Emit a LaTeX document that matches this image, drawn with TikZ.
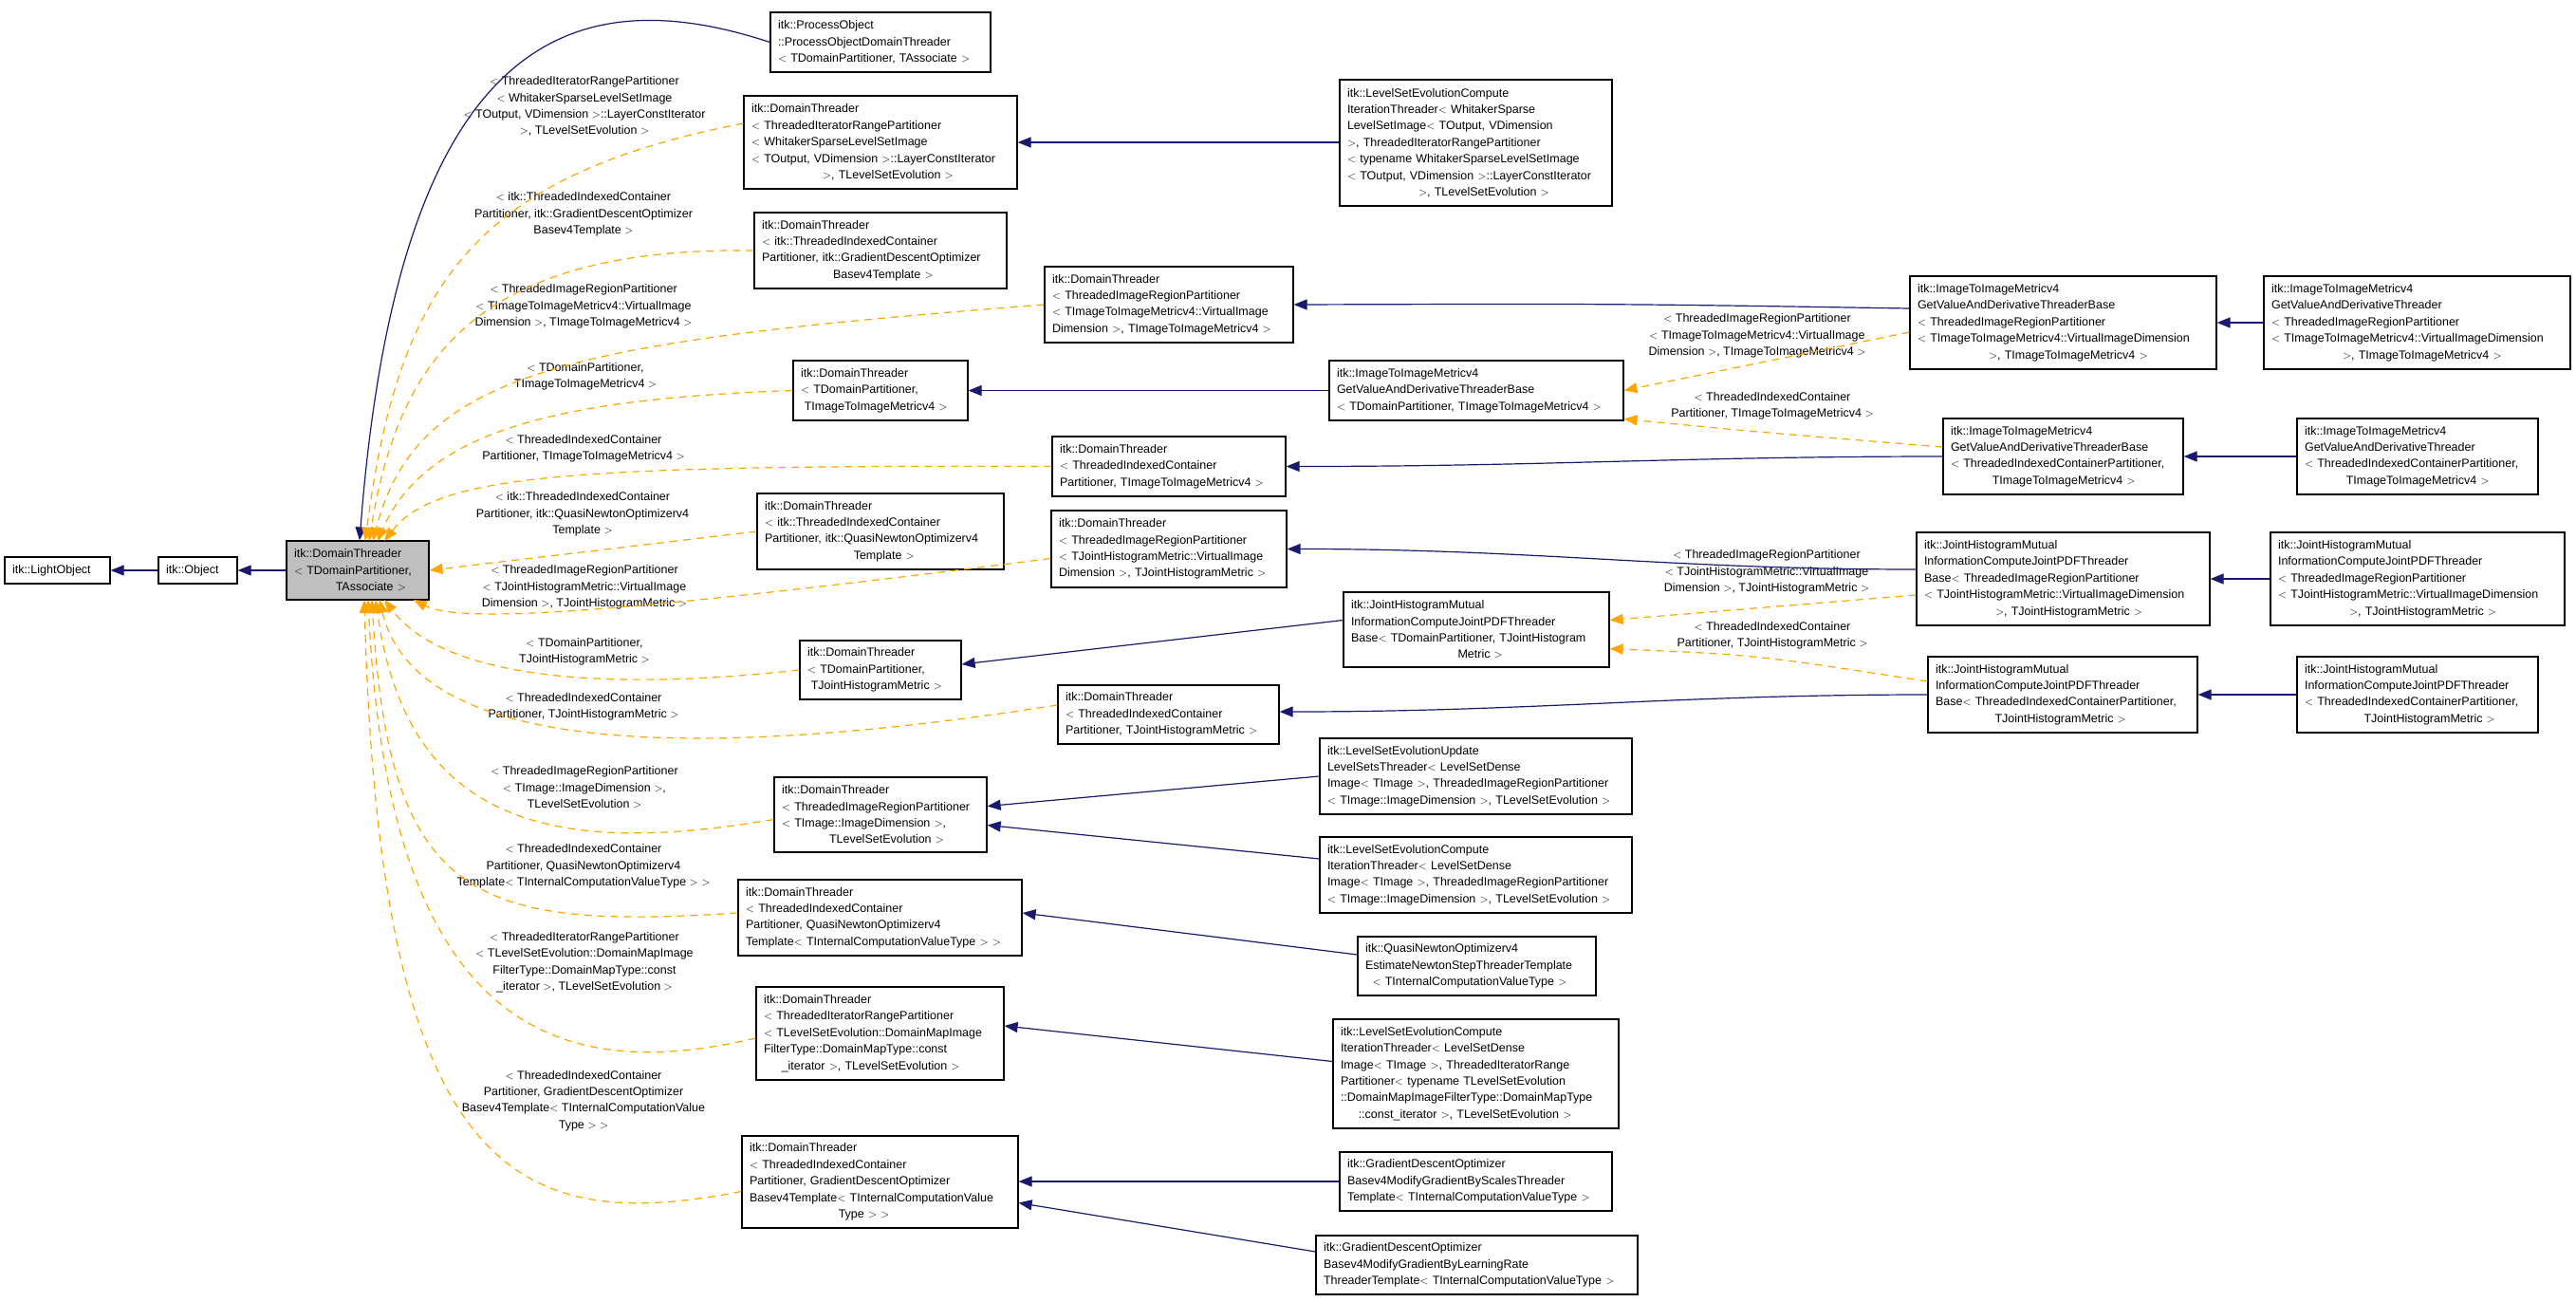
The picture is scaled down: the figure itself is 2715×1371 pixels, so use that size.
\documentclass[tikz,border=0pt]{standalone}
\usepackage{fontspec}
\setmainfont{Liberation Sans}
\usetikzlibrary{arrows.meta,calc}
\definecolor{navy}{HTML}{191970}
\definecolor{orng}{HTML}{FFA500}
\tikzset{
  box/.style={draw=black,line width=1.2pt,inner sep=0pt,align=left,font=\fontsize{12.5}{17.4}\selectfont},
  lab/.style={align=center,font=\fontsize{12.5}{17.4}\selectfont,inner sep=0pt},
  inh/.style={draw=navy,line width=1.2pt,-{Triangle[length=14pt,width=11pt]}},
  dep/.style={draw=orng,line width=1.2pt,dash pattern=on 8pt off 6pt,-{Triangle[length=14pt,width=11pt,fill=orng]}}
}
\newcommand\bx[7][]{\pgfmathsetmacro\bw{#5-#3}\pgfmathsetmacro\bh{#6-#4}\pgfmathsetmacro\tw{#5-#3-16}%
\node[box,#1,minimum width=\bw pt,minimum height=\bh pt,text width=\tw pt] (#2) at ({(#3+#5)/2},{(#4+#6)/2}) {#7};}
\begin{document}
\begin{tikzpicture}[x=1pt,y=-1pt]
\useasboundingbox (0,0) rectangle (2715,1371);
% boxes
\bx{lo}{5}{587}{116}{615}{itk::LightObject}
\bx{ob}{167}{587}{250}{615}{itk::Object}
\bx[fill=black!25]{main}{302}{570}{452}{632}{itk::DomainThreader\\$<$ TDomainPartitioner,\\\hspace*{3.5em}TAssociate $>$}
\bx{po}{812}{13}{1044}{76}{itk::ProcessObject\\::ProcessObjectDomainThreader\\$<$ TDomainPartitioner, TAssociate $>$}
\bx{dta}{784}{101}{1072}{199}{itk::DomainThreader\\$<$ ThreadedIteratorRangePartitioner\\$<$ WhitakerSparseLevelSetImage\\$<$ TOutput, VDimension $>$::LayerConstIterator\\\hspace*{6em}$>$, TLevelSetEvolution $>$}
\bx{lsew}{1412}{84}{1699}{217}{itk::LevelSetEvolutionCompute\\IterationThreader$<$ WhitakerSparse\\LevelSetImage$<$ TOutput, VDimension\\ $>$, ThreadedIteratorRangePartitioner\\$<$ typename WhitakerSparseLevelSetImage\\$<$ TOutput, VDimension $>$::LayerConstIterator\\\hspace*{6em}$>$, TLevelSetEvolution $>$}
\bx{dtb}{795}{224}{1061}{304}{itk::DomainThreader\\$<$ itk::ThreadedIndexedContainer\\Partitioner, itk::GradientDescentOptimizer\\\hspace*{6em}Basev4Template $>$}
\bx{dtc}{1101}{281}{1363}{361}{itk::DomainThreader\\$<$ ThreadedImageRegionPartitioner\\$<$ TImageToImageMetricv4::VirtualImage\\Dimension $>$, TImageToImageMetricv4 $>$}
\bx{dtd}{836}{380}{1020}{443}{itk::DomainThreader\\$<$ TDomainPartitioner,\\\hspace*{0.3em}TImageToImageMetricv4 $>$}
\bx{gtdp}{1401}{380}{1711}{443}{itk::ImageToImageMetricv4\\GetValueAndDerivativeThreaderBase\\$<$ TDomainPartitioner, TImageToImageMetricv4 $>$}
\bx{dte}{1109}{460}{1355}{523}{itk::DomainThreader\\$<$ ThreadedIndexedContainer\\Partitioner, TImageToImageMetricv4 $>$}
\bx{dtf}{798}{520}{1058}{600}{itk::DomainThreader\\$<$ itk::ThreadedIndexedContainer\\Partitioner, itk::QuasiNewtonOptimizerv4\\\hspace*{7.5em}Template $>$}
\bx{dtg}{1108}{538}{1356}{619}{itk::DomainThreader\\$<$ ThreadedImageRegionPartitioner\\$<$ TJointHistogramMetric::VirtualImage\\Dimension $>$, TJointHistogramMetric $>$}
\bx{jtdp}{1416}{624}{1696}{703}{itk::JointHistogramMutual\\InformationComputeJointPDFThreader\\Base$<$ TDomainPartitioner, TJointHistogram\\\hspace*{9em}Metric $>$}
\bx{dth}{843}{675}{1013}{737}{itk::DomainThreader\\$<$ TDomainPartitioner,\\\hspace*{0.3em}TJointHistogramMetric $>$}
\bx{dti}{1115}{722}{1348}{784}{itk::DomainThreader\\$<$ ThreadedIndexedContainer\\Partitioner, TJointHistogramMetric $>$}
\bx{dtj}{816}{819}{1040}{898}{itk::DomainThreader\\$<$ ThreadedImageRegionPartitioner\\$<$ TImage::ImageDimension $>$,\\\hspace*{4em}TLevelSetEvolution $>$}
\bx{lseu}{1391}{778}{1720}{858}{itk::LevelSetEvolutionUpdate\\LevelSetsThreader$<$ LevelSetDense\\Image$<$ TImage $>$, ThreadedImageRegionPartitioner\\$<$ TImage::ImageDimension $>$, TLevelSetEvolution $>$}
\bx{lsed}{1391}{882}{1720}{962}{itk::LevelSetEvolutionCompute\\IterationThreader$<$ LevelSetDense\\Image$<$ TImage $>$, ThreadedImageRegionPartitioner\\$<$ TImage::ImageDimension $>$, TLevelSetEvolution $>$}
\bx{dtk}{778}{927}{1077}{1007}{itk::DomainThreader\\$<$ ThreadedIndexedContainer\\Partitioner, QuasiNewtonOptimizerv4\\Template$<$ TInternalComputationValueType $>$ $>$}
\bx{qne}{1431}{987}{1682}{1049}{itk::QuasiNewtonOptimizerv4\\EstimateNewtonStepThreaderTemplate\\\hspace*{0.6em}$<$ TInternalComputationValueType $>$}
\bx{dtl}{797}{1040}{1058}{1138}{itk::DomainThreader\\$<$ ThreadedIteratorRangePartitioner\\$<$ TLevelSetEvolution::DomainMapImage\\FilterType::DomainMapType::const\\\hspace*{1.5em}\_iterator $>$, TLevelSetEvolution $>$}
\bx{lser}{1405}{1074}{1706}{1189}{itk::LevelSetEvolutionCompute\\IterationThreader$<$ LevelSetDense\\Image$<$ TImage $>$, ThreadedIteratorRange\\Partitioner$<$ typename TLevelSetEvolution\\::DomainMapImageFilterType::DomainMapType\\\hspace*{1.5em}::const\_iterator $>$, TLevelSetEvolution $>$}
\bx{dtm}{782}{1197}{1073}{1294}{itk::DomainThreader\\$<$ ThreadedIndexedContainer\\Partitioner, GradientDescentOptimizer\\Basev4Template$<$ TInternalComputationValue\\\hspace*{7.5em}Type $>$ $>$}
\bx{gds}{1412}{1214}{1699}{1276}{itk::GradientDescentOptimizer\\Basev4ModifyGradientByScalesThreader\\Template$<$ TInternalComputationValueType $>$}
\bx{gdl}{1387}{1302}{1726}{1364}{itk::GradientDescentOptimizer\\Basev4ModifyGradientByLearningRate\\ThreaderTemplate$<$ TInternalComputationValueType $>$}
\bx{gbir}{2013}{291}{2336}{389}{itk::ImageToImageMetricv4\\GetValueAndDerivativeThreaderBase\\$<$ ThreadedImageRegionPartitioner\\$<$ TImageToImageMetricv4::VirtualImageDimension\\\hspace*{6em}$>$, TImageToImageMetricv4 $>$}
\bx{gir}{2386}{291}{2709}{389}{itk::ImageToImageMetricv4\\GetValueAndDerivativeThreader\\$<$ ThreadedImageRegionPartitioner\\$<$ TImageToImageMetricv4::VirtualImageDimension\\\hspace*{6em}$>$, TImageToImageMetricv4 $>$}
\bx{gbic}{2048}{441}{2301}{521}{itk::ImageToImageMetricv4\\GetValueAndDerivativeThreaderBase\\$<$ ThreadedIndexedContainerPartitioner,\\\hspace*{3.5em}TImageToImageMetricv4 $>$}
\bx{gic}{2421}{441}{2675}{521}{itk::ImageToImageMetricv4\\GetValueAndDerivativeThreader\\$<$ ThreadedIndexedContainerPartitioner,\\\hspace*{3.5em}TImageToImageMetricv4 $>$}
\bx{jbir}{2020}{561}{2329}{659}{itk::JointHistogramMutual\\InformationComputeJointPDFThreader\\Base$<$ ThreadedImageRegionPartitioner\\$<$ TJointHistogramMetric::VirtualImageDimension\\\hspace*{6em}$>$, TJointHistogramMetric $>$}
\bx{jir}{2393}{561}{2703}{659}{itk::JointHistogramMutual\\InformationComputeJointPDFThreader\\$<$ ThreadedImageRegionPartitioner\\$<$ TJointHistogramMetric::VirtualImageDimension\\\hspace*{6em}$>$, TJointHistogramMetric $>$}
\bx{jbic}{2032}{692}{2316}{772}{itk::JointHistogramMutual\\InformationComputeJointPDFThreader\\Base$<$ ThreadedIndexedContainerPartitioner,\\\hspace*{5em}TJointHistogramMetric $>$}
\bx{jic}{2421}{692}{2675}{772}{itk::JointHistogramMutual\\InformationComputeJointPDFThreader\\$<$ ThreadedIndexedContainerPartitioner,\\\hspace*{5em}TJointHistogramMetric $>$}
% labels
\node[lab] (l1) at (616,112) {$<$ ThreadedIteratorRangePartitioner\\$<$ WhitakerSparseLevelSetImage\\$<$ TOutput, VDimension $>$::LayerConstIterator\\$>$, TLevelSetEvolution $>$};
\node[lab] (l2) at (615,226) {$<$ itk::ThreadedIndexedContainer\\Partitioner, itk::GradientDescentOptimizer\\Basev4Template $>$};
\node[lab] (l3) at (615,323) {$<$ ThreadedImageRegionPartitioner\\$<$ TImageToImageMetricv4::VirtualImage\\Dimension $>$, TImageToImageMetricv4 $>$};
\node[lab] (l4) at (617,397) {$<$ TDomainPartitioner,\\TImageToImageMetricv4 $>$};
\node[lab] (l5) at (615,473) {$<$ ThreadedIndexedContainer\\Partitioner, TImageToImageMetricv4 $>$};
\node[lab] (l6) at (614,542) {$<$ itk::ThreadedIndexedContainer\\Partitioner, itk::QuasiNewtonOptimizerv4\\Template $>$};
\node[lab] (l7) at (616,619) {$<$ ThreadedImageRegionPartitioner\\$<$ TJointHistogramMetric::VirtualImage\\Dimension $>$, TJointHistogramMetric $>$};
\node[lab] (l8) at (616,687) {$<$ TDomainPartitioner,\\TJointHistogramMetric $>$};
\node[lab] (l9) at (615,745) {$<$ ThreadedIndexedContainer\\Partitioner, TJointHistogramMetric $>$};
\node[lab] (l10) at (616,830) {$<$ ThreadedImageRegionPartitioner\\$<$ TImage::ImageDimension $>$,\\TLevelSetEvolution $>$};
\node[lab] (l11) at (615,913) {$<$ ThreadedIndexedContainer\\Partitioner, QuasiNewtonOptimizerv4\\Template$<$ TInternalComputationValueType $>$ $>$};
\node[lab] (l12) at (616,1014) {$<$ ThreadedIteratorRangePartitioner\\$<$ TLevelSetEvolution::DomainMapImage\\FilterType::DomainMapType::const\\\_iterator $>$, TLevelSetEvolution $>$};
\node[lab] (l13) at (615,1160) {$<$ ThreadedIndexedContainer\\Partitioner, GradientDescentOptimizer\\Basev4Template$<$ TInternalComputationValue\\Type $>$ $>$};
\node[lab] (r1) at (1852,354) {$<$ ThreadedImageRegionPartitioner\\$<$ TImageToImageMetricv4::VirtualImage\\Dimension $>$, TImageToImageMetricv4 $>$};
\node[lab] (r2) at (1868,428) {$<$ ThreadedIndexedContainer\\Partitioner, TImageToImageMetricv4 $>$};
\node[lab] (r3) at (1862,603) {$<$ ThreadedImageRegionPartitioner\\$<$ TJointHistogramMetric::VirtualImage\\Dimension $>$, TJointHistogramMetric $>$};
\node[lab] (r4) at (1868,670) {$<$ ThreadedIndexedContainer\\Partitioner, TJointHistogramMetric $>$};
% inheritance edges
\draw[inh] (ob) -- (lo);
\draw[inh] (main) -- (ob);
\draw[inh] (po.west) .. controls (600,-25) and (420,40) .. ($(main.north)+(2,0)$);
\draw[inh] (lsew.west|-dta.east) -- (dta.east);
\draw[inh] (gbir.west) ++(0,-15) .. controls (1700,320) .. (dtc.east);
\draw[inh] (gtdp) -- (dtd);
\draw[inh] (gbic.west) to[out=180,in=0] (dte.east);
\draw[inh] (jbir.west) ++(0,-10) to[out=180,in=0] (dtg.east);
\draw[inh] ($(jtdp.west)+(0,-10)$) -- ($(dth.east)+(0,-6)$);
\draw[inh] (jbic.west) to[out=180,in=0] ($(dti.east)+(0,-3)$);
\draw[inh] (lseu.west) -- ($(dtj.east)+(0,-9)$);
\draw[inh] (lsed.west) ++(0,-17) -- ($(dtj.east)+(0,11)$);
\draw[inh] (qne.west) ++(0,-12) -- ($(dtk.east)+(0,-5)$);
\draw[inh] (lser.west) ++(0,-13) -- ($(dtl.east)+(0,-8)$);
\draw[inh] (gds) -- (gds-|dtm.east);
\draw[inh] (gdl.west) ++(0,-14) -- ($(dtm.east)+(0,22)$);
\draw[inh] (gir) -- (gir-|gbir.east);
\draw[inh] (gic) -- (gic-|gbic.east);
\draw[inh] (jir) -- (jir-|jbir.east);
\draw[inh] (jic) -- (jic-|jbic.east);
% dependency edges to main
\draw[dep] ($(dta.west)+(0,-20)$) .. controls (500,185) and (420,300) .. (385,570);
\draw[dep] (dtb.west) .. controls (500,260) and (420,380) .. (389,570);
\draw[dep] (dtc.west) .. controls (600,360) and (440,390) .. (393,570);
\draw[dep] (dtd.west) .. controls (600,420) and (450,450) .. (398,570);
\draw[dep] (dte.west) .. controls (600,490) and (460,500) .. (405,570);
\draw[dep] (dtf.west) -- (main.east);
\draw[dep] (dtg.west) ++(0,10) .. controls (700,640) and (490,660) .. (436,632);
\draw[dep] (dth.west) .. controls (700,722) and (480,730) .. (405,632);
\draw[dep] (dti.west) ++(0,-10) .. controls (750,800) and (440,800) .. (400,632);
\draw[dep] (dtj.west) ++(0,5) .. controls (600,900) and (430,880) .. (396,632);
\draw[dep] (dtk.west) ++(0,-5) .. controls (500,980) and (410,950) .. (392,632);
\draw[dep] (dtl.west) ++(0,5) .. controls (600,1140) and (410,1100) .. (388,632);
\draw[dep] (dtm.west) ++(0,10) .. controls (550,1300) and (400,1250) .. (384,632);
% right dependencies
\draw[dep] (gbir.west) ++(0,-10) ++(0,20) -- (gtdp.east);
\draw[dep] (gbic.west) ++(0,-10) .. controls (1850,455) .. ($(gtdp.east)+(0,30)$);
\draw[dep] ($(jbir.west)+(0,17)$) -- ($(jtdp.east)+(0,-10)$);
\draw[dep] ($(jbic.west)+(0,-14)$) .. controls (1850,690) .. ($(jtdp.east)+(0,20)$);
\end{tikzpicture}
\end{document}
